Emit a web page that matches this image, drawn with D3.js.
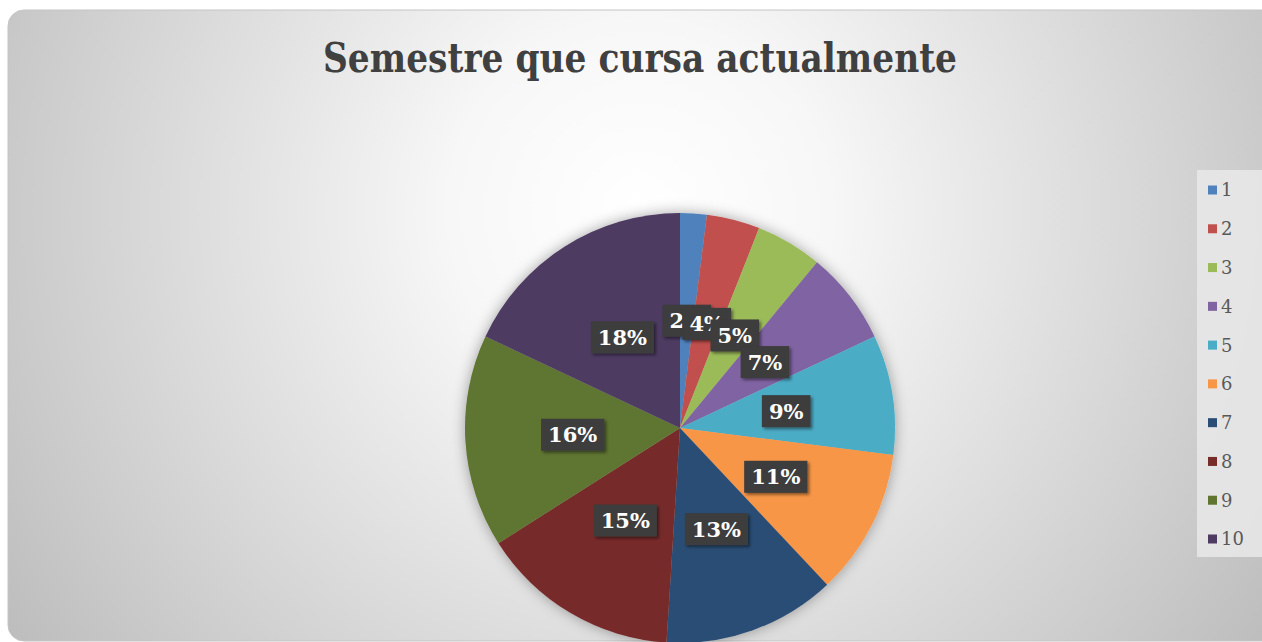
<!DOCTYPE html>
<html>
<head>
<meta charset="utf-8">
<script src="https://cdn.jsdelivr.net/npm/d3@7"></script>
<style>
  html, body { margin: 0; padding: 0; background: #fff; }
  svg { display: block; }
</style>
</head>
<body>
<div id="chart"></div>
<script>
// data
const semesters = ["1", "2", "3", "4", "5", "6", "7", "8", "9", "10"];
const percents = [2, 4, 5, 7, 9, 11, 13, 15, 16, 18];
const colors = ["#4F81BD", "#C0504D", "#9BBB59", "#8064A2", "#4BACC6",
                "#F79646", "#2C4D75", "#772C2A", "#5F7530", "#4D3B62"];
const title = "Semestre que cursa actualmente";

const width = 1262, height = 642;
const cx = 680, cy = 428, radius = 215;

const svg = d3.select("#chart").append("svg")
    .attr("width", width)
    .attr("height", height);

const defs = svg.append("defs");

let bg = defs.append("radialGradient")
    .attr("id", "bgGrad")
    .attr("gradientUnits", "userSpaceOnUse")
    .attr("cx", 640).attr("cy", 210).attr("r", 760);
bg.append("stop").attr("offset", "0").attr("stop-color", "#ffffff");
bg.append("stop").attr("offset", "0.25").attr("stop-color", "#f7f7f7");
bg.append("stop").attr("offset", "1").attr("stop-color", "#bdbdbd");

let glow = defs.append("filter").attr("id", "pieGlow")
    .attr("x", "-20%").attr("y", "-20%").attr("width", "140%").attr("height", "140%");
glow.append("feDropShadow")
    .attr("dx", 0).attr("dy", 0).attr("stdDeviation", 7)
    .attr("flood-color", "#000").attr("flood-opacity", 0.35);

let boxShadow = defs.append("filter").attr("id", "boxShadow")
    .attr("x", "-30%").attr("y", "-30%").attr("width", "170%").attr("height", "170%");
boxShadow.append("feDropShadow")
    .attr("dx", 2).attr("dy", 2).attr("stdDeviation", 1.5)
    .attr("flood-color", "#000").attr("flood-opacity", 0.45);

// chart area background
svg.append("rect")
    .attr("x", 8).attr("y", 10)
    .attr("width", width + 20 - 8).attr("height", 631)
    .attr("rx", 16)
    .attr("fill", "url(#bgGrad)")
    .attr("stroke", "#c4c4c4")
    .attr("stroke-width", 1);

svg.append("text")
    .attr("x", 640)
    .attr("y", 72)
    .attr("text-anchor", "middle")
    .attr("textLength", 634)
    .attr("lengthAdjust", "spacingAndGlyphs")
    .style("font-family", "'DejaVu Serif', serif")
    .style("font-weight", "bold")
    .style("font-size", "41px")
    .style("fill", "#404040")
    .text(title);

const pie = d3.pie().sort(null).value(d => d);
const arcs = pie(percents);
const arc = d3.arc().innerRadius(0).outerRadius(radius);
const labelArc = d3.arc().innerRadius(radius * 0.5).outerRadius(radius * 0.5);

const g = svg.append("g").attr("transform", `translate(${cx},${cy})`);

g.append("g")
    .attr("filter", "url(#pieGlow)")
    .selectAll("path")
    .data(arcs)
    .join("path")
    .attr("d", arc)
    .attr("fill", (d, i) => colors[i]);

// data labels, drawn in order so later boxes overlap earlier ones (as in the original)
arcs.forEach((d, i) => {
    let [lx, ly] = labelArc.centroid(d);
    let lg = g.append("g").attr("transform", `translate(${lx},${ly})`);
    let rect = lg.append("rect").attr("fill", "#3c3c3c").attr("filter", "url(#boxShadow)");
    let txt = lg.append("text")
        .attr("text-anchor", "middle")
        .attr("dy", "0.36em")
        .style("font-family", "'DejaVu Serif', serif")
        .style("font-weight", "bold")
        .style("font-size", "21px")
        .style("fill", "#ffffff")
        .text(percents[i] + "%");
    let w = txt.node().getComputedTextLength() + 14;
    rect.attr("x", -w / 2).attr("y", -16).attr("width", w).attr("height", 32);
});

// legend
const legendY = d3.scalePoint().domain(semesters).range([190, 539]);

svg.append("rect")
    .attr("x", 1197).attr("y", 170)
    .attr("width", 70).attr("height", 387)
    .attr("fill", "#e9e9e9")
    .attr("opacity", 0.85);

const legend = svg.append("g")
    .selectAll("g")
    .data(semesters)
    .join("g")
    .attr("transform", d => `translate(1208,${legendY(d)})`);

legend.append("rect")
    .attr("x", 0).attr("y", -4.5)
    .attr("width", 9).attr("height", 9)
    .attr("fill", (d, i) => colors[i]);

legend.append("text")
    .attr("x", 13)
    .attr("dy", "0.36em")
    .style("font-family", "'DejaVu Serif', serif")
    .style("font-size", "18px")
    .style("fill", "#595959")
    .text(d => d);
</script>
</body>
</html>
